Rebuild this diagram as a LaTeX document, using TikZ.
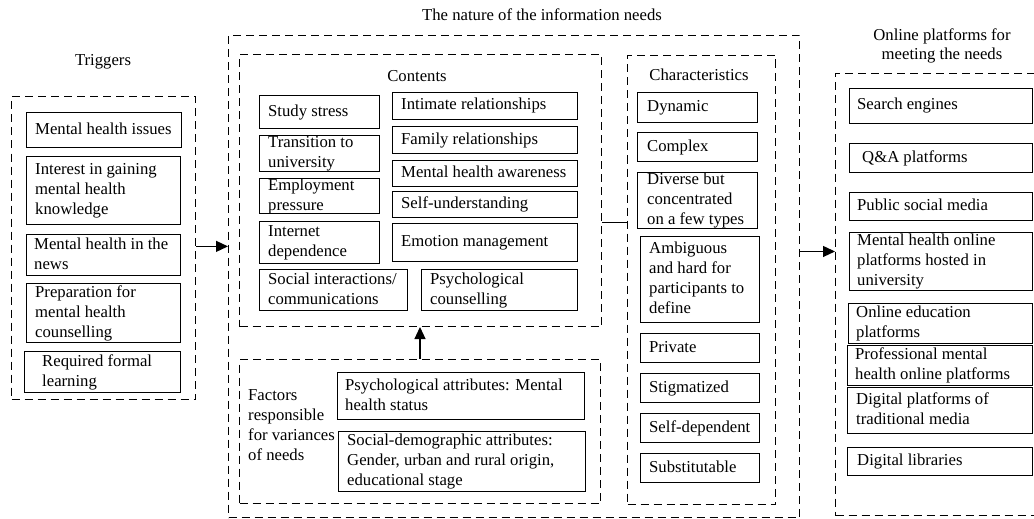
\documentclass[tikz,border=0pt]{standalone}
\usepackage{fontspec}
\setmainfont{Liberation Serif}
\usetikzlibrary{arrows.meta}
\newcommand\BX[7]{%
  \node[bxs, minimum width=#4, minimum height=#5] (#1) at (#2,#3) {};
  \node[txt] (#1t) at ([xshift=#6]#1.west) {\strut#7\strut};}
\tikzset{
  bxs/.style={draw, line width=1pt, anchor=north west, inner sep=0pt},
  txt/.style={anchor=west, align=left, inner sep=0pt, font=\fontsize{16.7}{20}\selectfont},
  frame/.style={draw, dash pattern=on 8pt off 5pt, line width=1pt, anchor=north west, inner sep=0pt},
  ttl/.style={align=center, inner sep=0pt, font=\fontsize{16.7}{19}\selectfont},
  arr/.style={line width=1.2pt, -{Triangle[length=12pt,width=11pt]}},
  lnk/.style={line width=1pt}
}
\begin{document}
\begin{tikzpicture}[x=1pt,y=-1pt]
\clip (0,0) rectangle (1034,519);
\fill[white] (0,0) rectangle (1034,519);
% titles
\node[ttl] (t1) at (103,62) {Triggers};
\node[ttl] (t2) at (542,15) {The nature of the information needs};
\node[ttl] (t3) at (417,76) {Contents};
\node[ttl] (t4) at (699,75) {Characteristics};
\node[ttl] (t5) at (942,45.5) {Online platforms for\\meeting the needs};
% frames
\node[frame, minimum width=184, minimum height=303] (trig) at (11,96) {};
\node[frame, minimum width=571, minimum height=482] (outer) at (228,35) {};
\node[frame, minimum width=362, minimum height=272] (cont) at (239,54) {};
\node[frame, minimum width=361, minimum height=144] (fact) at (239,359) {};
\node[frame, minimum width=148, minimum height=449] (char) at (627,55) {};
\node[frame, minimum width=210, minimum height=442] (plat) at (835,73) {};
% triggers
\BX{a1}{26}{112}{155}{35}{9}{Mental health issues}
\BX{a2}{26}{156}{154}{68}{9}{Interest in gaining\\mental health\\knowledge}
\BX{a3}{26}{234}{154}{41}{8}{Mental health in the\\news}
\BX{a4}{26}{283}{154}{59}{9}{Preparation for\\mental health\\counselling}
\BX{a5}{24}{351}{156}{41}{18}{Required formal\\learning}
% contents
\BX{c1}{259}{95}{120}{33}{9}{Study stress}
\BX{c2}{259}{135}{120}{36}{9}{Transition to\\university}
\BX{c3}{259}{178}{120}{35}{9}{Employment\\pressure}
\BX{c4}{259}{221}{120}{42}{9}{Internet\\dependence}
\BX{c5}{259}{269}{148}{41}{9}{Social interactions/\\communications}
\BX{c6}{421}{269}{156}{41}{9}{Psychological\\counselling}
\BX{c7}{392}{92}{185}{27}{9}{Intimate relationships}
\BX{c8}{392}{126}{185}{27}{9}{Family relationships}
\BX{c9}{392}{160}{185}{26}{9}{Mental health awareness}
\BX{c10}{392}{191}{185}{26}{9}{Self-understanding}
\BX{c11}{392}{223}{185}{38}{9}{Emotion management}
% factors
\node[txt] (factt) at (248,426.5) {\strut Factors\\responsible\\for variances\\of needs\strut};
\BX{p1}{337}{372}{247}{47}{8}{Psychological attributes: Mental\\health status}
\BX{p2}{338}{431}{247}{60}{9}{Social-demographic attributes:\\Gender, urban and rural origin,\\educational stage}
% characteristics
\BX{k1}{637}{92}{120}{30}{10}{Dynamic}
\BX{k2}{637}{132}{120}{29}{10}{Complex}
\BX{k3}{637}{172}{120}{56}{10}{Diverse but\\concentrated\\on a few types}
\BX{k4}{640}{236}{119}{86}{9}{Ambiguous\\and hard for\\participants to\\define}
\BX{k5}{640}{333}{119}{29}{9}{Private}
\BX{k6}{640}{373}{119}{29}{9}{Stigmatized}
\BX{k7}{640}{413}{119}{29}{9}{Self-dependent}
\BX{k8}{640}{453}{119}{29}{9}{Substitutable}
% platforms
\BX{q1}{849}{88}{183}{35}{8}{Search engines}
\BX{q2}{849}{143}{183}{29}{13}{Q\&A platforms}
\BX{q3}{849}{192}{183}{28}{8}{Public social media}
\BX{q4}{849}{232}{183}{58}{8}{Mental health online\\platforms hosted in\\university}
\BX{q5}{848}{303}{184}{40}{8}{Online education\\platforms}
\BX{q6}{847}{345}{185}{40}{8}{Professional mental\\health online platforms}
\BX{q7}{847}{387}{185}{46}{9}{Digital platforms of\\traditional media}
\BX{q8}{847}{447}{185}{28}{10}{Digital libraries}
% connectors
\draw[arr] (trig.1.5) -- (trig.1.5 -| outer.west);
\draw[arr] (fact.north) -- (fact.north |- cont.south);
\draw[lnk] (cont.-10.94) -- (cont.-10.94 -| char.west);
\draw[arr] (outer.5) -- (outer.5 -| plat.west);
\end{tikzpicture}
\end{document}
